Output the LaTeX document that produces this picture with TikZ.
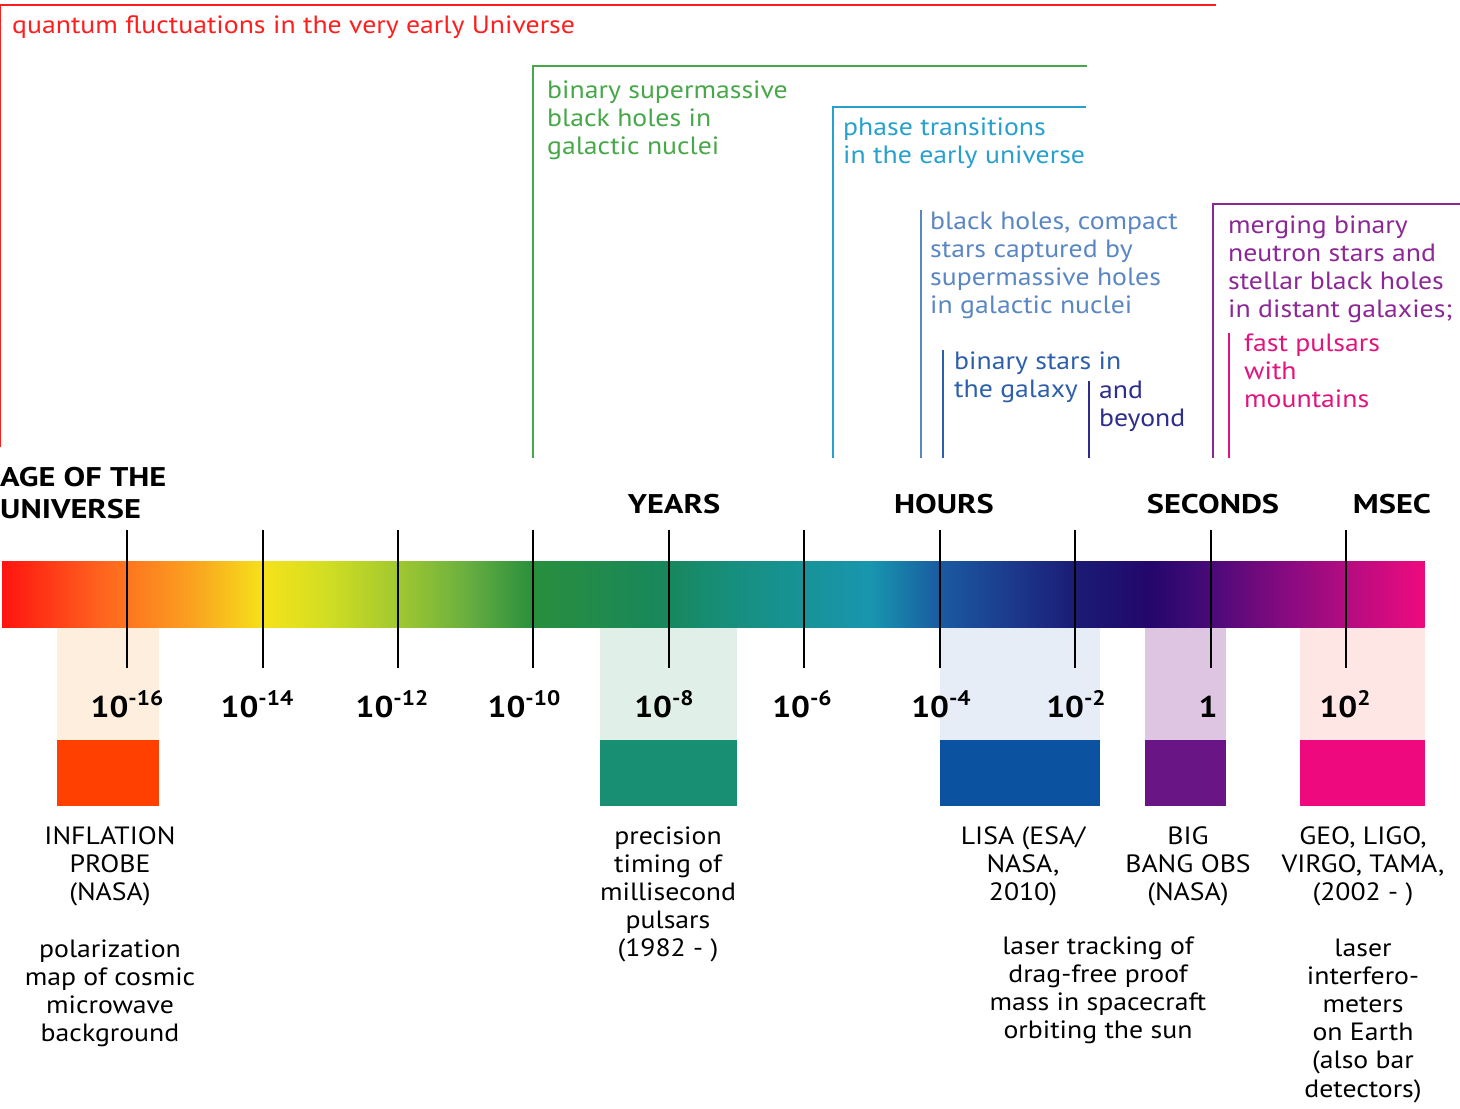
\documentclass[tikz,border=0pt]{standalone}
\usepackage{fontspec}
\setmainfont[FakeStretch=1.11]{PT Sans}
\newfontfamily\headfont[FakeStretch=1.2]{PT Sans}
\usepackage{xcolor}
% bracket colours
\definecolor{qfred}{RGB}{255,30,30}
\definecolor{bhgreen}{RGB}{70,168,72}
\definecolor{ptcyan}{RGB}{40,160,205}
\definecolor{cslblue}{RGB}{90,135,195}
\definecolor{bsblue}{RGB}{45,95,170}
\definecolor{abnavy}{RGB}{45,45,140}
\definecolor{nsprp}{RGB}{140,40,150}
\definecolor{fpmag}{RGB}{225,20,125}
% strips and boxes under the bar
\definecolor{infllight}{RGB}{253,238,221}
\definecolor{ptalight}{RGB}{224,239,232}
\definecolor{lisalight}{RGB}{230,237,246}
\definecolor{bbolight}{RGB}{222,197,226}
\definecolor{geolight}{RGB}{253,230,228}
\definecolor{inflbox}{RGB}{255,64,0}
\definecolor{ptabox}{RGB}{24,143,115}
\definecolor{lisabox}{RGB}{11,82,160}
\definecolor{bbobox}{RGB}{106,21,134}
\definecolor{geobox}{RGB}{238,10,126}
% colours along the age bar
\definecolor{barA}{RGB}{255,20,15}
\definecolor{barB}{RGB}{255,95,30}
\definecolor{barC}{RGB}{250,165,32}
\definecolor{barD}{RGB}{245,226,26}
\definecolor{barE}{RGB}{210,222,34}
\definecolor{barF}{RGB}{160,200,48}
\definecolor{barG}{RGB}{105,175,64}
\definecolor{barH}{RGB}{40,143,60}
\definecolor{barI}{RGB}{23,135,94}
\definecolor{barJ}{RGB}{23,143,126}
\definecolor{barK}{RGB}{24,150,175}
\definecolor{barL}{RGB}{26,90,160}
\definecolor{barM}{RGB}{28,58,140}
\definecolor{barN}{RGB}{26,28,116}
\definecolor{barO}{RGB}{35,7,106}
\definecolor{barP}{RGB}{74,10,120}
\definecolor{barQ}{RGB}{138,10,128}
\definecolor{barR}{RGB}{180,12,128}
\definecolor{barS}{RGB}{238,10,126}
\usetikzlibrary{positioning}
\newcommand\expo[1]{\raisebox{12pt}{\fontsize{21}{21}\selectfont#1}}

\begin{document}
\begin{tikzpicture}[x=1pt,y=-1pt,
  bracket/.style={line width=1.8pt},
  tick/.style={line width=1.6pt},
  toplabel/.style={anchor=base west,align=left,inner sep=0pt,font=\fontsize{25}{28}\selectfont},
  header/.style={anchor=base,inner sep=0pt,font=\headfont\fontsize{27}{32}\selectfont\bfseries},
  explabel/.style={anchor=base,inner sep=0pt,font=\fontsize{30}{30}\selectfont\bfseries},
  desc/.style={anchor=base,align=center,inner sep=0pt,font=\fontsize{25}{28.2}\selectfont}]
  \useasboundingbox (0,0) rectangle (1460,1109);

  % Sources: brackets and their labels (nodes sit on the baseline of their last line)
  \draw[bracket,qfred] (0,447) |- (1216,5);
  \node[toplabel,text=qfred] (quantum) at (12,33) {quantum fluctuations in the very early Universe};
  \draw[bracket,bhgreen] (533,458) |- (1087,66);
  \node[toplabel,text=bhgreen] (smbh) at (547,154) {binary supermassive\\black holes in\\galactic nuclei};
  \draw[bracket,ptcyan] (833,458) |- (1086,107);
  \node[toplabel,text=ptcyan] (phase) at (843,163) {phase transitions\\in the early universe};
  \draw[bracket,cslblue] (921,210) -- (921,458);
  \node[toplabel,text=cslblue] (capture) at (930,313) {black holes, compact\\stars captured by\\supermassive holes\\in galactic nuclei};
  \draw[bracket,bsblue] (943,350) -- (943,458);
  \node[toplabel,text=bsblue] (binstars) at (954,397) {binary stars in\\the galaxy};
  \draw[bracket,abnavy] (1089,381) -- (1089,458);
  \node[toplabel,text=abnavy] (beyond) at (1099,426) {and\\beyond};
  \draw[bracket,nsprp] (1213,458) |- (1460,204);
  \node[toplabel,text=nsprp] (merging) at (1228,317) {merging binary\\neutron stars and\\stellar black holes\\in distant galaxies;};
  \draw[bracket,fpmag] (1229,333) -- (1229,458);
  \node[toplabel,text=fpmag] (pulsars) at (1244,407) {fast pulsars\\with\\mountains};

  % Headers
  \node[header,anchor=base west,align=left] (age) at (0,518) {AGE OF THE\\UNIVERSE};
  \node[header] (years) at (674,513) {YEARS};
  \node[header] (hours) at (944,513) {HOURS};
  \node[header] (seconds) at (1213,513) {SECONDS};
  \node[header] (msec) at (1392,513) {MSEC};

  % Light strips under the bar, dark boxes below them
  \foreach \xa/\xb/\cl/\cd in {57/159/infllight/inflbox, 600/737/ptalight/ptabox,
      940/1100/lisalight/lisabox, 1145/1226/bbolight/bbobox, 1300/1425/geolight/geobox}{
    \fill[\cl] (\xa,627) rectangle (\xb,740);
    \fill[\cd] (\xa,740) rectangle (\xb,806);
  }

  % Age bar
  \foreach \xa/\xb/\ca/\cb in {2/95/barA/barB, 95/196/barB/barC, 196/263/barC/barD,
      263/326/barD/barE, 326/398/barE/barF, 398/466/barF/barG, 466/533/barG/barH,
      533/670/barH/barI, 670/731/barI/barJ, 731/870/barJ/barK, 870/940/barK/barL,
      940/1010/barL/barM, 1010/1075/barM/barN, 1075/1149/barN/barO, 1149/1211/barO/barP,
      1211/1289/barP/barQ, 1289/1347/barQ/barR, 1347/1424/barR/barS}{
    \fill[left color=\ca,right color=\cb] (\xa,561) rectangle (\xb+0.6,627);
  }

  % Ticks and exponents
  \foreach \x in {127,263,398,533,669,804,940,1075,1211,1346}{
    \draw[tick] (\x,530) -- (\x,668);
  }
  \node[explabel] (e16) at (127,717) {10\expo{-16}};
  \node[explabel] (e14) at (257,717) {10\expo{-14}};
  \node[explabel] (e12) at (392,717) {10\expo{-12}};
  \node[explabel] (e10) at (524,717) {10\expo{-10}};
  \node[explabel] (e8) at (664,717) {10\expo{-8}};
  \node[explabel] (e6) at (802,717) {10\expo{-6}};
  \node[explabel] (e4) at (941,717) {10\expo{-4}};
  \node[explabel] (e2) at (1076,717) {10\expo{-2}};
  \node[explabel] (e0) at (1208,717) {1};
  \node[explabel] (p2) at (1345,717) {10\expo{2}};

  % Detectors and methods
  \node[desc] (inflname) at (110,900.4) {INFLATION\\PROBE\\(NASA)};
  \node[desc] (influse) at (110,1041.6) {polarization\\map of cosmic\\microwave\\background};
  \node[desc] (ptaname) at (668,956.8) {precision\\timing of\\millisecond\\pulsars\\(1982 - )};
  \node[desc] (lisaname) at (1023,900.4) {LISA (ESA/\\NASA,\\2010)};
  \node[desc] (lisause) at (1098,1038.6) {laser tracking of\\drag-free proof\\mass in spacecraft\\orbiting the sun};
  \node[desc] (bboname) at (1188,900.4) {BIG\\BANG OBS\\(NASA)};
  \node[desc] (geoname) at (1363,900.4) {GEO, LIGO,\\VIRGO, TAMA,\\(2002 - )};
  \node[desc] (geouse) at (1363,1097) {laser\\interfero-\\meters\\on Earth\\(also bar\\detectors)};
\end{tikzpicture}
\end{document}
